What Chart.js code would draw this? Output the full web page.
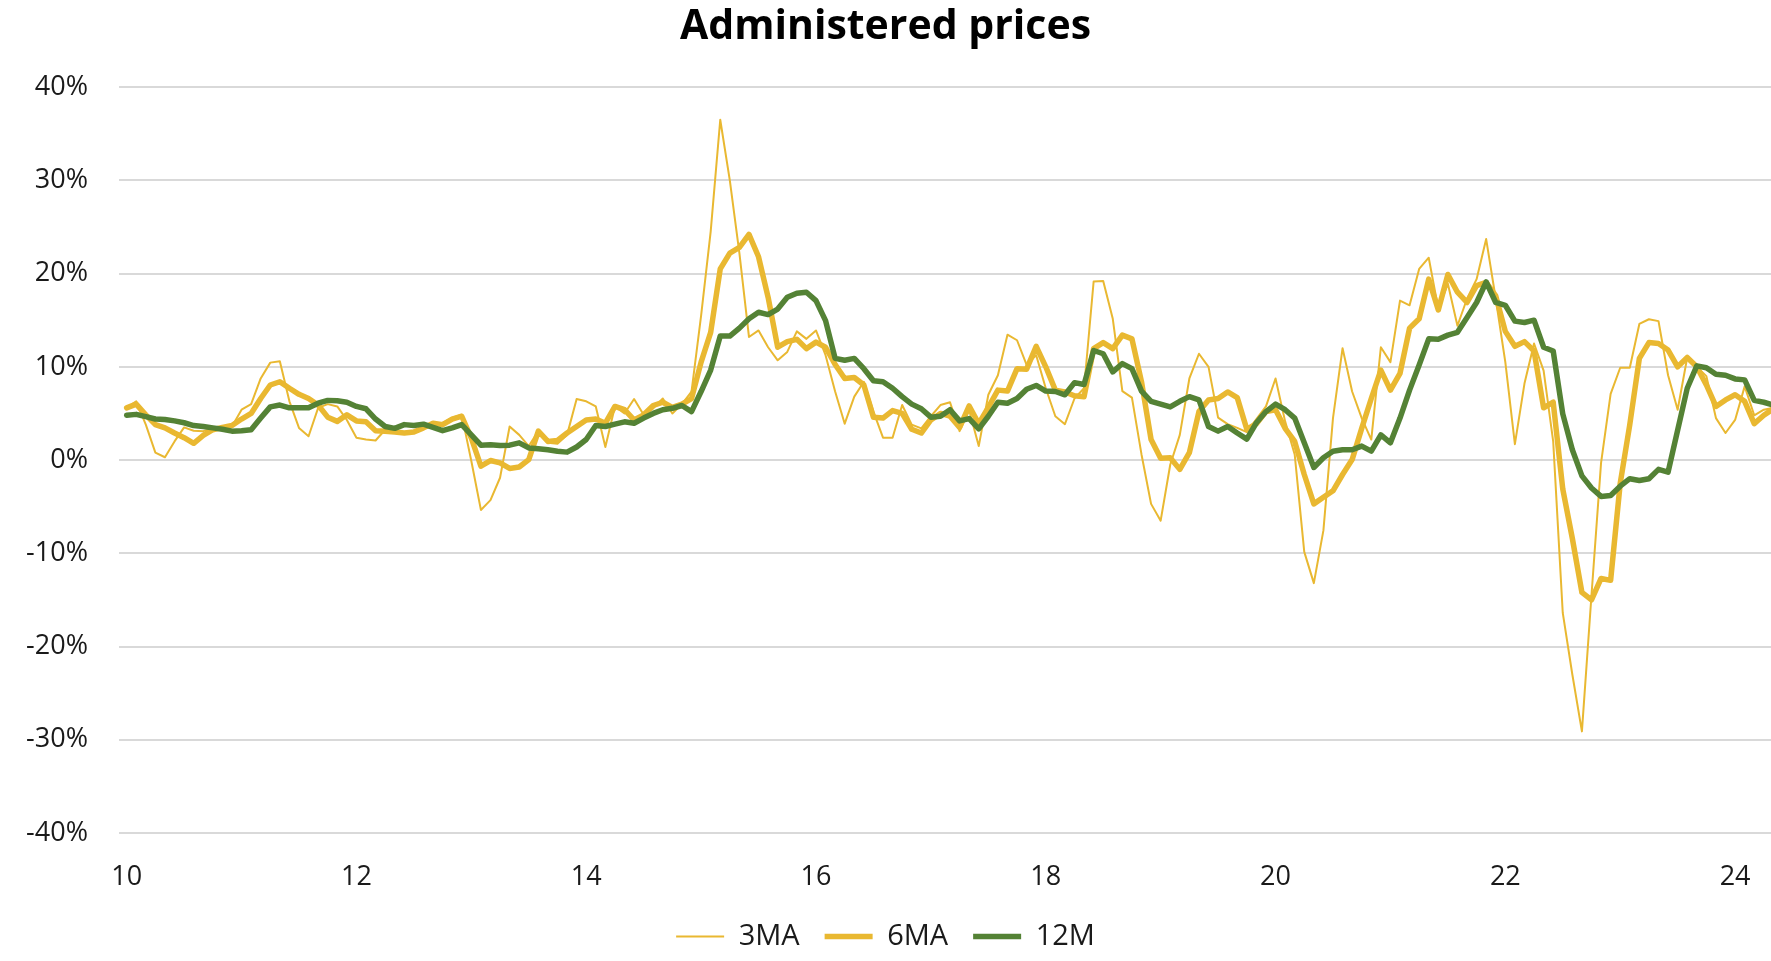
<!DOCTYPE html>
<html>
<head>
<meta charset="utf-8">
<script src="https://cdn.jsdelivr.net/npm/chart.js@4.4.1/dist/chart.umd.min.js"></script>
<style>
  html, body { margin: 0; padding: 0; background: #fff; }
  #wrap { width: 1771px; height: 961px; }
</style>
</head>
<body>
<div id="wrap"><canvas id="lineChart" width="1771" height="961"></canvas></div>
<script>
// monthly readings, Jan 2010 onwards (% y/y)
const threeMA = [
  5.6, 6.3, 3.8, 0.8, 0.3, 2.0, 3.5, 3.15, 3.1, 3.4, 3.45, 3.6,
  5.4, 6.0, 8.75, 10.45, 10.6, 6.3, 3.45, 2.55, 5.6, 6.0, 5.75, 4.3,
  2.4, 2.2, 2.1, 3.25, 3.25, 2.9, 2.9, 3.45, 3.85, 3.95, 4.55, 4.85,
  -0.1, -5.35, -4.3, -1.9, 3.6, 2.7, 1.5, 3.1, 1.85, 1.75, 2.7, 6.55,
  6.3, 5.75, 1.4, 5.75, 5.0, 6.55, 4.85, 5.55, 6.6, 5.0, 6.0, 7.35,
  15.5, 24.5, 36.5, 30.0, 22.2, 13.2, 13.9, 12.1, 10.7, 11.6, 13.8, 13.0,
  13.9, 11.25, 7.35, 3.9, 6.8, 8.4, 5.2, 2.4, 2.4, 5.9, 3.8, 3.4,
  4.7, 5.9, 6.2, 3.1, 5.35, 1.5, 7.0, 9.1, 13.45, 12.85, 10.2, 11.25,
  7.7, 4.7, 3.85, 6.6, 7.7, 19.15, 19.2, 15.15, 7.4, 6.7, 0.6, -4.7,
  -6.5, -0.5, 2.7, 8.75, 11.4, 10.0, 4.55, 3.85, 3.45, 3.0, 4.4, 5.75,
  8.75, 4.15, 0.6, -9.85, -13.2, -7.55, 4.5, 12.0, 7.35, 4.5, 2.2, 12.1,
  10.5, 17.1, 16.6, 20.5, 21.7, 16.2, 18.9, 14.4, 17.3, 19.4, 23.7, 17.3,
  10.5, 1.7, 8.2, 12.5, 9.6, 2.0, -16.4, -23.0, -29.1, -14.5, -0.3, 7.1,
  9.9, 9.9, 14.6, 15.1, 14.9, 9.1, 5.4, 11.0, 10.0, 9.0, 4.5, 2.9,
  4.3, 7.9, 4.8, 5.4, 5.6
];

const sixMA = [
  5.6, 6.0, 4.85, 3.8, 3.45, 2.9, 2.4, 1.8, 2.65, 3.25, 3.5, 3.7,
  4.4, 5.0, 6.6, 8.05, 8.4, 7.7, 7.05, 6.6, 5.9, 4.6, 4.15, 4.85,
  4.2, 4.1, 3.15, 3.1, 3.0, 2.9, 3.0, 3.45, 3.95, 3.8, 4.4, 4.7,
  2.35, -0.65, -0.05, -0.3, -0.9, -0.75, 0.05, 3.1, 2.0, 2.1, 2.9, 3.6,
  4.3, 4.4, 3.95, 5.75, 5.4, 4.3, 4.85, 5.85, 6.2, 5.65, 6.0, 6.6,
  10.5, 13.7, 20.5, 22.2, 22.8, 24.2, 21.8, 17.45, 12.1, 12.7, 12.95, 11.95,
  12.65, 12.1, 10.25, 8.75, 8.85, 8.05, 4.6, 4.5, 5.3, 5.0, 3.3, 2.9,
  4.3, 5.0, 4.7, 3.5, 5.8, 3.9, 5.65, 7.5, 7.4, 9.8, 9.75, 12.2,
  10.0, 7.5, 7.3, 6.9, 6.8, 11.95, 12.6, 11.95, 13.4, 13.0, 8.4, 2.2,
  0.2, 0.25, -1.0, 0.8, 5.2, 6.45, 6.6, 7.3, 6.7, 3.3, 3.9, 5.2,
  5.4, 3.4, 2.0, -1.55, -4.7, -4.0, -3.3, -1.55, 0.05, 3.4, 6.6, 9.65,
  7.5, 9.3, 14.15, 15.15, 19.4, 16.1, 19.9, 18.0, 16.9, 18.7, 19.05, 17.6,
  13.8, 12.2, 12.7, 11.7, 5.6, 6.2, -3.1, -8.4, -14.2, -15.0, -12.7, -12.9,
  -2.5, 3.8, 10.9, 12.6, 12.5, 11.8, 10.0, 11.0, 10.0, 8.05, 5.75, 6.45,
  7.0, 6.3, 3.9, 4.8, 5.5
];

const twelveM = [
  4.8, 4.9, 4.65, 4.4, 4.35, 4.2, 4.0, 3.7, 3.6, 3.45, 3.3, 3.1,
  3.15, 3.25, 4.5, 5.7, 5.9, 5.6, 5.6, 5.6, 6.1, 6.4, 6.35, 6.2,
  5.75, 5.5, 4.4, 3.6, 3.4, 3.8, 3.7, 3.85, 3.5, 3.15, 3.45, 3.8,
  2.7, 1.6, 1.65, 1.55, 1.6, 1.85, 1.3, 1.2, 1.1, 0.95, 0.85, 1.4,
  2.2, 3.7, 3.6, 3.85, 4.1, 3.95, 4.5, 5.0, 5.4, 5.55, 5.85, 5.2,
  7.35, 9.65, 13.3, 13.3, 14.15, 15.15, 15.85, 15.6, 16.2, 17.45, 17.9, 18.0,
  17.1, 14.95, 10.9, 10.7, 10.9, 9.8, 8.5, 8.4, 7.7, 6.8, 6.0, 5.5,
  4.6, 4.7, 5.4, 4.2, 4.45, 3.35, 4.7, 6.2, 6.1, 6.6, 7.6, 8.0,
  7.4, 7.35, 7.0, 8.3, 8.1, 11.75, 11.4, 9.45, 10.35, 9.8, 7.4, 6.3,
  6.0, 5.7, 6.3, 6.8, 6.45, 3.6, 3.1, 3.6, 2.9, 2.25, 4.0, 5.2,
  6.0, 5.4, 4.5, 1.85, -0.8, 0.25, 0.95, 1.1, 1.1, 1.5, 0.95, 2.7,
  1.85, 4.5, 7.5, 10.2, 13.0, 12.95, 13.4, 13.7, 15.3, 16.9, 19.1, 16.9,
  16.6, 14.9, 14.75, 15.0, 12.1, 11.7, 4.95, 1.1, -1.7, -3.0, -3.9, -3.8,
  -2.8, -2.0, -2.2, -2.0, -1.0, -1.3, 3.2, 7.7, 10.1, 9.9, 9.2, 9.1,
  8.7, 8.6, 6.4, 6.2, 5.9
];

const tickLabels = ['10', '12', '14', '16', '18', '20', '22', '24'];

// month labels, used for the x values and tooltips
const months = [];
for (let i = 0; i < threeMA.length; i++) {
  const yr = 2010 + Math.floor(i / 12);
  months.push(yr + '-' + String(i % 12 + 1).padStart(2, '0'));
}

const FONT = "'Century Gothic', 'Open Sans', sans-serif";
const YELLOW = '#E9B831';
const GREEN = '#548235';

function toPoints(arr) {
  return arr.map((v, i) => ({ x: i, y: v }));
}

const ctx = document.getElementById('lineChart').getContext('2d');

const chart = new Chart(ctx, {
  type: 'line',
  data: {
    datasets: [
      {
        label: '12M',
        data: toPoints(twelveM),
        borderColor: GREEN,
        backgroundColor: GREEN,
        borderWidth: 5.5,
        pointBorderWidth: 5.5
      },
      {
        label: '6MA',
        data: toPoints(sixMA),
        borderColor: YELLOW,
        backgroundColor: YELLOW,
        borderWidth: 5.5,
        pointBorderWidth: 5.5
      },
      {
        label: '3MA',
        data: toPoints(threeMA),
        borderColor: YELLOW,
        backgroundColor: YELLOW,
        borderWidth: 2,
        pointBorderWidth: 2
      }
    ]
  },
  options: {
    responsive: false,
    animation: false,
    elements: {
      point: { radius: 0, hoverRadius: 0 },
      line: { tension: 0, borderJoinStyle: 'round', borderCapStyle: 'round' }
    },
    layout: { padding: 0 },
    scales: {
      x: {
        type: 'linear',
        min: -0.8,
        max: 171.75,
        grid: { display: false },
        border: { display: false },
        afterBuildTicks: function (scale) {
          scale.ticks = tickLabels.map((t, i) => ({ value: i * 24 }));
        },
        afterFit: function (scale) {
          scale.height = 64;
        },
        ticks: {
          padding: 20,
          maxRotation: 0,
          color: '#1a1a1a',
          font: { family: FONT, size: 27 },
          callback: function (value, index) {
            return tickLabels[index];
          }
        }
      },
      y: {
        min: -40,
        max: 40,
        grid: { color: '#d9d9d9', lineWidth: 2, drawTicks: false },
        border: { display: false },
        afterFit: function (scale) {
          scale.width = 119;
        },
        ticks: {
          stepSize: 10,
          padding: 31,
          color: '#1a1a1a',
          font: { family: FONT, size: 27 },
          callback: function (value) {
            return value + '%';
          }
        }
      }
    },
    plugins: {
      title: {
        display: true,
        text: 'Administered prices',
        color: '#000',
        font: { family: FONT, size: 41, weight: 'bold' },
        padding: { top: 2.4, bottom: 35.5 }
      },
      legend: {
        position: 'bottom',
        reverse: true,
        labels: {
          usePointStyle: true,
          pointStyle: 'line',
          pointStyleWidth: 48,
          padding: 25,
          color: '#1a1a1a',
          font: { family: FONT, size: 29 }
        }
      },
      tooltip: {
        callbacks: {
          title: function (items) {
            return months[items[0].parsed.x];
          }
        }
      }
    }
  }
});
</script>
</body>
</html>
